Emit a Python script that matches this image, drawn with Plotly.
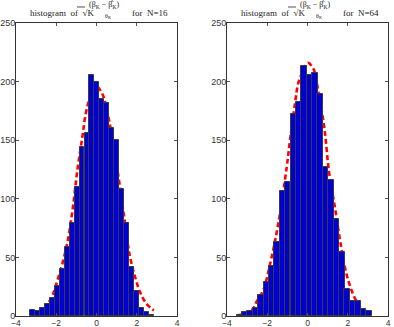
import plotly.graph_objects as go

# histogram N=16 (bin centres and counts)
centros_16 = [-3.18, -2.93, -2.69, -2.44, -2.19, -1.95, -1.70, -1.46, -1.21, -0.96,
              -0.72, -0.47, -0.23, 0.02, 0.27, 0.51, 0.76, 1.00, 1.25, 1.50,
              1.74, 1.99, 2.23, 2.48, 2.73]
cuentas_16 = [5, 4, 7, 10, 15, 26, 40, 59, 79, 110,
              144, 156, 206, 200, 185, 182, 160, 150, 108, 79,
              42, 21, 7, 3, 1]
# fitted normal curve (dashed red), N=16
curva_x_16 = [-3.31, -2.8, -2.5, -2.18, -1.94, -1.69, -1.44, -1.19, -0.95, -0.70,
              -0.53, -0.25, 0.0, 0.21, 0.37, 0.67, 0.9, 1.15, 1.41, 1.66,
              1.94, 2.19, 2.47, 2.77, 2.85]
curva_y_16 = [0.9, 3.8, 8.5, 17.9, 30.5, 45, 63.4, 90.4, 124.6, 153,
              173, 190, 196, 192, 186, 163, 140, 112, 80, 51,
              32, 19.3, 10.8, 5.7, 4.8]

# histogram N=64
centros_64 = [-3.39, -3.12, -2.85, -2.58, -2.31, -2.05, -1.78, -1.51, -1.24, -0.98,
              -0.71, -0.44, -0.17, 0.10, 0.37, 0.63, 0.90, 1.17, 1.44, 1.71,
              1.97, 2.24, 2.51, 2.78, 3.05]
cuentas_64 = [1, 3, 4, 7, 18, 29, 43, 63, 107, 114,
              172, 183, 213, 206, 207, 189, 127, 116, 83, 55,
              23, 13, 13, 6, 4]
curva_x_64 = [-3.52, -3.0, -2.69, -2.53, -2.2, -1.87, -1.45, -1.03, -0.87, -0.62,
              -0.46, -0.2, 0.02, 0.29, 0.54, 0.84, 1.07, 1.37, 1.67, 1.95,
              2.28, 2.6, 2.9, 3.19]
curva_y_64 = [0.5, 2.5, 6.5, 12.2, 22, 43.5, 79, 127.4, 150, 181.5,
              198.5, 210, 216, 211, 191.4, 160, 123, 91.9, 59, 35,
              18, 8, 3.5, 1.3]

ticks_x = [-4, -2, 0, 2, 4]
ticks_y = [0, 50, 100, 150, 200, 250]

W, H = 394, 327
ML, MR, MT, MB = 16, 6, 23, 11

def px_x(p):
    return (p - ML) / (W - ML - MR)

def px_y(p):
    return (H - MB - p) / (H - MT - MB)

fig = go.Figure()

# curves go on the base axes, bars on overlay axes so the bars hide the curve
fig.add_trace(go.Scatter(x=curva_x_16, y=curva_y_16, mode='lines', xaxis='x', yaxis='y',
                         line=dict(color='red', width=2.6, dash='5px,3px', shape='spline')))
fig.add_trace(go.Scatter(x=curva_x_64, y=curva_y_64, mode='lines', xaxis='x2', yaxis='y2',
                         line=dict(color='red', width=2.6, dash='5px,3px', shape='spline')))
fig.add_trace(go.Bar(x=centros_16, y=cuentas_16, width=0.246, xaxis='x3', yaxis='y3',
                     marker=dict(color='#0000d0', line=dict(color='#3a3a3a', width=1))))
fig.add_trace(go.Bar(x=centros_64, y=cuentas_64, width=0.268, xaxis='x4', yaxis='y4',
                     marker=dict(color='#0000d0', line=dict(color='#3a3a3a', width=1))))

eje_x = dict(range=[-4, 4], tickvals=ticks_x, ticks='inside', ticklen=3, tickcolor='#555',
             showline=True, linecolor='#333', linewidth=1, mirror='ticks', showgrid=False,
             zeroline=False, automargin=False, ticklabelstandoff=-1,
             tickfont=dict(family='Liberation Sans, Arial', size=8.5, color='#333'))
eje_y = dict(range=[0, 250], tickvals=ticks_y, ticks='inside', ticklen=3, tickcolor='#555',
             showline=True, linecolor='#333', linewidth=1, mirror='ticks', showgrid=False,
             zeroline=False, automargin=False, ticklabelstandoff=-2,
             tickfont=dict(family='Liberation Sans, Arial', size=9, color='#333'))

dom1 = [0, px_x(177)]
dom2 = [px_x(227), 1]

fig.update_layout(
    width=W, height=H,
    margin=dict(l=ML, r=MR, t=MT, b=MB),
    paper_bgcolor='white', plot_bgcolor='white',
    showlegend=False,
    bargap=0,
    xaxis=dict(eje_x, domain=dom1, anchor='y'),
    yaxis=dict(eje_y, anchor='x'),
    xaxis2=dict(eje_x, domain=dom2, anchor='y2'),
    yaxis2=dict(eje_y, anchor='x2'),
    xaxis3=dict(range=[-4, 4], overlaying='x', visible=False, automargin=False),
    yaxis3=dict(range=[0, 250], overlaying='y', visible=False, anchor='x3', automargin=False),
    xaxis4=dict(range=[-4, 4], overlaying='x2', visible=False, automargin=False),
    yaxis4=dict(range=[0, 250], overlaying='y2', visible=False, anchor='x4', automargin=False),
)

# titles: histogram of sqrt(K) (beta_K - beta^_K)/theta_K for N=..
fuente = 'Liberation Serif, DejaVu Serif, serif'
for off, n in [(0, '16'), (211, '64')]:
    fig.add_annotation(x=px_x(29 + off), y=px_y(12.5), xref='paper', yref='paper',
                       text='histogram  of  √K', showarrow=False, xanchor='left',
                       yanchor='middle', borderpad=0,
                       font=dict(family=fuente, size=9, color='#222'))
    fig.add_shape(type='line', xref='paper', yref='paper',
                  x0=px_x(77 + off), x1=px_x(85 + off), y0=px_y(7), y1=px_y(7),
                  line=dict(color='#222', width=0.8))
    fig.add_annotation(x=px_x(88 + off), y=px_y(4.5), xref='paper', yref='paper',
                       text='(β<sub>K</sub> − β̂<sub>K</sub>)', showarrow=False,
                       xanchor='left', yanchor='middle', borderpad=0,
                       font=dict(family=fuente, size=8, color='#222'))
    fig.add_annotation(x=px_x(108 + off), y=px_y(16), xref='paper', yref='paper',
                       text='θ<sub>K</sub>', showarrow=False,
                       xanchor='center', yanchor='middle', borderpad=0,
                       font=dict(family=fuente, size=6, color='#222'))
    fig.add_annotation(x=px_x(131 + off), y=px_y(12.5), xref='paper', yref='paper',
                       text='for  N=' + n, showarrow=False, xanchor='left',
                       yanchor='middle', borderpad=0,
                       font=dict(family=fuente, size=9, color='#222'))

# the page body has an 8px default margin; drop it so the figure sits at the corner
fig.write_html("out.html", config={'displayModeBar': False},
               post_script="document.body.style.margin='0';")
